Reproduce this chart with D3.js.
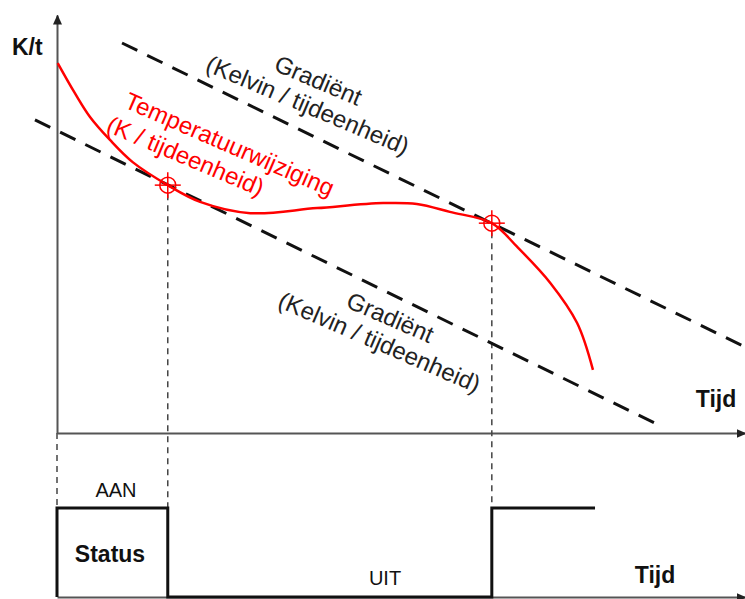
<!DOCTYPE html>
<html>
<head>
<meta charset="utf-8">
<script src="https://cdn.jsdelivr.net/npm/d3@7"></script>
<style>
  body { margin: 0; background: #fff; }
  svg { display: block; font-family: "Liberation Sans", Arial, sans-serif; }
</style>
</head>
<body>
<svg width="745" height="599"></svg>
<script>
// red curve: temperature change per time unit
const curveTime = [0.1, 2.6, 4.8, 7.7, 11.0, 16.1, 20.8, 28.1, 37.8, 47.4, 52.3, 57.1, 63.2, 66.9, 71.7, 75.6, 77.9];
const curveRate = [88.5, 81.3, 75.6, 70.1, 64.8, 59.3, 55.3, 52.6, 53.8, 55.0, 54.8, 52.9, 50.2, 44.5, 35.9, 26.3, 15.1];

// two parallel gradient lines (start / end)
const upperGradientTime = [9.45, 100];
const upperGradientRate = [93.3, 20.6];
const lowerGradientTime = [-3.2, 88.1];
const lowerGradientRate = [74.9, 1.4];

// moments where the curve touches a gradient
const switchTimes = [16.1, 63.2];

// status step line (1 = AAN, 0 = UIT)
const statusTime = [0, 0, 16.1, 16.1, 63.2, 63.2, 78.2];
const statusValue = [0, 1, 1, 0, 0, 1, 1];

const svg = d3.select("svg");

const x = d3.scaleLinear().domain([0, 100]).range([57, 745]);
const y = d3.scaleLinear().domain([0, 100]).range([433, 15]);
const yStatus = d3.scaleLinear().domain([0, 1]).range([597, 508]);

// arrow head
svg.append("defs")
  .append("marker")
  .attr("id", "arrow")
  .attr("markerUnits", "userSpaceOnUse")
  .attr("markerWidth", 10)
  .attr("markerHeight", 9)
  .attr("refX", 9)
  .attr("refY", 4.5)
  .attr("orient", "auto")
  .append("path")
  .attr("d", "M0,0L10,4.5L0,9Z")
  .attr("fill", "#222");

// axes without ticks
function styleAxis(g) {
  g.selectAll(".tick").remove();
  g.select(".domain")
    .attr("stroke", "#555")
    .attr("stroke-width", 2)
    .attr("marker-end", "url(#arrow)");
}

svg.append("g")
  .attr("transform", `translate(${x(0)},0)`)
  .call(d3.axisLeft(y).tickValues([]).tickSizeOuter(0))
  .call(styleAxis);

svg.append("g")
  .attr("transform", `translate(0,${y(0)})`)
  .call(d3.axisBottom(x).tickValues([]).tickSizeOuter(0))
  .call(styleAxis);

svg.append("g")
  .attr("transform", `translate(0,${yStatus(0)})`)
  .call(d3.axisBottom(x).tickValues([]).tickSizeOuter(0))
  .call(styleAxis);

// thin dashed guide lines down to the status plot
const guides = [{ t: 0, top: y(0) }].concat(
  switchTimes.map((t) => ({ t: t, top: y(curveRate[curveTime.indexOf(t)]) + 9 }))
);

svg.selectAll(".guide")
  .data(guides)
  .join("line")
  .attr("class", "guide")
  .attr("x1", (d) => x(d.t))
  .attr("x2", (d) => x(d.t))
  .attr("y1", (d) => d.top)
  .attr("y2", yStatus(1))
  .attr("stroke", "#444")
  .attr("stroke-width", 1.5)
  .attr("stroke-dasharray", "6,5");

// gradient lines
const gradients = [
  d3.zip(upperGradientTime, upperGradientRate),
  d3.zip(lowerGradientTime, lowerGradientRate),
];

const straight = d3.line()
  .x((d) => x(d[0]))
  .y((d) => y(d[1]));

svg.selectAll(".gradient")
  .data(gradients)
  .join("path")
  .attr("class", "gradient")
  .attr("d", straight)
  .attr("fill", "none")
  .attr("stroke", "#111")
  .attr("stroke-width", 3)
  .attr("stroke-dasharray", "17,11");

// temperature curve
const curve = d3.line()
  .x((d) => x(d[0]))
  .y((d) => y(d[1]))
  .curve(d3.curveCatmullRom);

svg.append("path")
  .datum(d3.zip(curveTime, curveRate))
  .attr("d", curve)
  .attr("fill", "none")
  .attr("stroke", "#ff0000")
  .attr("stroke-width", 2.5);

// touch points
const marks = svg.selectAll(".mark")
  .data(switchTimes)
  .join("g")
  .attr("class", "mark")
  .attr("transform", (t) => `translate(${x(t)},${y(curveRate[curveTime.indexOf(t)])})`)
  .attr("stroke", "#ff0000")
  .attr("stroke-width", 1.5)
  .attr("fill", "none");

marks.append("circle").attr("r", 8);
marks.append("line").attr("x1", -13).attr("x2", 13);
marks.append("line").attr("y1", -13).attr("y2", 13);

// status line
svg.append("path")
  .datum(d3.zip(statusTime, statusValue))
  .attr("d", d3.line().x((d) => x(d[0])).y((d) => yStatus(d[1])))
  .attr("fill", "none")
  .attr("stroke", "#111")
  .attr("stroke-width", 3);

// rotated labels
function rotatedLabel(cx, cy, lines, color, anchor, rot) {
  const g = svg.append("g")
    .attr("transform", `translate(${cx},${cy}) rotate(${rot})`);
  g.selectAll("text")
    .data(lines)
    .join("text")
    .attr("y", (d, i) => i * 27)
    .attr("text-anchor", anchor)
    .attr("font-size", "24px")
    .attr("fill", color)
    .text((d) => d);
}

rotatedLabel(315, 88, ["Gradiënt", "(Kelvin / tijdeenheid)"], "#222", "middle", 23);
rotatedLabel(387, 325, ["Gradiënt", "(Kelvin / tijdeenheid)"], "#222", "middle", 23.5);
rotatedLabel(123, 107, ["Temperatuurwijziging"], "#ff0000", "start", 23.5);
rotatedLabel(105, 131, ["(K / tijdeenheid)"], "#ff0000", "start", 23);

// plain labels
const labels = [
  { text: "K/t", x: 12, y: 55, weight: "bold", size: 23, anchor: "start" },
  { text: "Tijd", x: 716, y: 407, weight: "bold", size: 23, anchor: "middle" },
  { text: "Tijd", x: 655, y: 583, weight: "bold", size: 23, anchor: "middle" },
  { text: "Status", x: 110, y: 562, weight: "bold", size: 23, anchor: "middle" },
  { text: "AAN", x: 116, y: 497, weight: "normal", size: 20, anchor: "middle" },
  { text: "UIT", x: 385, y: 585, weight: "normal", size: 20, anchor: "middle" },
];

svg.selectAll(".label")
  .data(labels)
  .join("text")
  .attr("class", "label")
  .attr("x", (d) => d.x)
  .attr("y", (d) => d.y)
  .attr("text-anchor", (d) => d.anchor)
  .attr("font-size", (d) => d.size + "px")
  .attr("font-weight", (d) => d.weight)
  .attr("fill", "#111")
  .text((d) => d.text);
</script>
</body>
</html>
